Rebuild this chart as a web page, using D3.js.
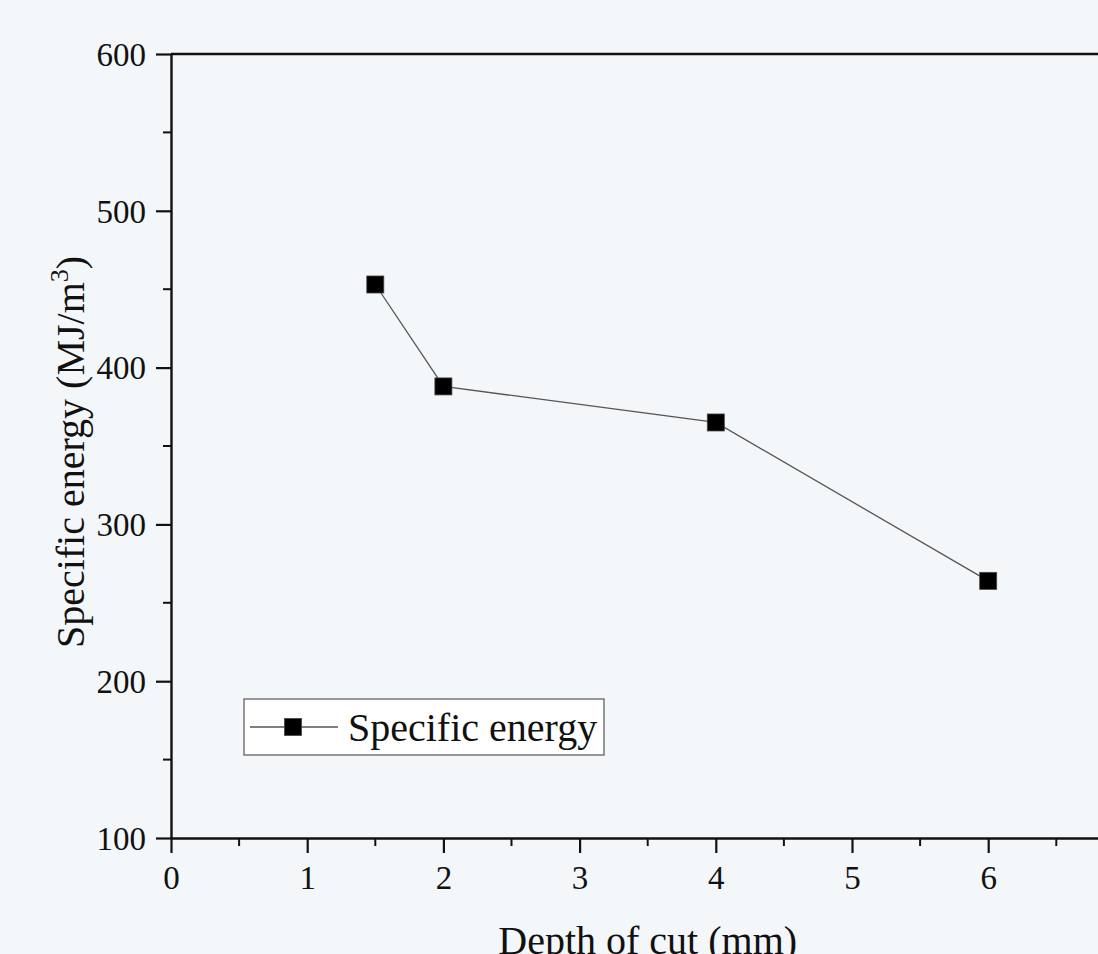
<!DOCTYPE html>
<html><head><meta charset="utf-8">
<script src="https://cdn.jsdelivr.net/npm/d3@7"></script>
<style>
html,body{margin:0;padding:0;background:#f4f7fa;}
svg{display:block;}
text{font-family:"Liberation Serif","Times New Roman",serif;fill:#111;}
</style></head>
<body>
<script>
const depth = [1.5, 2, 4, 6];
const energy = [453, 388, 365, 264];
const xTicks = [0, 1, 2, 3, 4, 5, 6];
const yTicks = [100, 200, 300, 400, 500, 600];
const seriesName = "Specific energy";

const W = 1098, H = 954;
const m = {left: 171, top: 54};
const pw = 953.4, ph = 784;

const svg = d3.select("body").append("svg").attr("width", W).attr("height", H);
svg.append("rect").attr("width", W).attr("height", H).attr("fill", "#f4f7fa");

const x = d3.scaleLinear().domain([0, 7]).range([m.left, m.left + pw]);
const y = d3.scaleLinear().domain([100, 600]).range([m.top + ph, m.top]);

// top frame
svg.append("line").attr("x1", m.left).attr("x2", m.left + pw)
  .attr("y1", m.top).attr("y2", m.top).attr("stroke", "#111").attr("stroke-width", 2.4);

// minor ticks
const gMinor = svg.append("g").attr("stroke", "#111").attr("stroke-width", 2);
d3.range(0.5, 7, 1).forEach(v => {
  gMinor.append("line").attr("x1", x(v)).attr("x2", x(v)).attr("y1", y(100)).attr("y2", y(100) + 8);
});
d3.range(150, 600, 100).forEach(v => {
  gMinor.append("line").attr("x1", m.left).attr("x2", m.left - 8).attr("y1", y(v)).attr("y2", y(v));
});

const xAxis = svg.append("g").attr("transform", `translate(0,${y(100)})`)
  .call(d3.axisBottom(x).tickValues(xTicks).tickFormat(d3.format("d")).tickSize(15).tickSizeOuter(0).tickPadding(13));
const yAxis = svg.append("g").attr("transform", `translate(${m.left},0)`)
  .call(d3.axisLeft(y).tickValues(yTicks).tickFormat(d3.format("d")).tickSize(15).tickSizeOuter(0).tickPadding(10));
[xAxis, yAxis].forEach(g => {
  g.select(".domain").attr("stroke", "#111").attr("stroke-width", 2.4);
  g.selectAll(".tick line").attr("stroke", "#111").attr("stroke-width", 2.2);
  g.selectAll(".tick text").attr("font-family", "Liberation Serif, serif").attr("font-size", 33).attr("fill", "#111");
});
yAxis.selectAll(".tick text").attr("dy", "0.34em");

// axis titles
svg.append("text").attr("x", x(3.5)).attr("y", 954).attr("text-anchor", "middle")
  .attr("font-size", 40).text("Depth of cut (mm)");
const yt = svg.append("text").attr("transform", `translate(84,452) rotate(-90)`)
  .attr("text-anchor", "middle").attr("font-size", 40);
yt.append("tspan").text("Specific energy (MJ/m");
yt.append("tspan").attr("font-size", 26).attr("dy", -16).text("3");
yt.append("tspan").attr("dy", 16).text(")");

// line
const pts = depth.map((d, i) => [d, energy[i]]);
svg.append("path").datum(pts)
  .attr("d", d3.line().x(d => x(d[0])).y(d => y(d[1])))
  .attr("fill", "none").attr("stroke", "#555").attr("stroke-width", 1.3);
const s = 17;
svg.selectAll("rect.pt").data(pts).enter().append("rect").attr("class", "pt")
  .attr("x", d => x(d[0]) - s/2).attr("y", d => y(d[1]) - s/2)
  .attr("width", s).attr("height", s).attr("fill", "#000").attr("stroke", "#444").attr("stroke-width", 0.8);

// legend
const lg = svg.append("g");
lg.append("rect").attr("x", 244).attr("y", 699).attr("width", 360).attr("height", 56)
  .attr("fill", "#fff").attr("stroke", "#555").attr("stroke-width", 1.2);
lg.append("line").attr("x1", 250).attr("x2", 338).attr("y1", 727).attr("y2", 727)
  .attr("stroke", "#555").attr("stroke-width", 1.3);
lg.append("rect").attr("x", 293 - s/2).attr("y", 727 - s/2).attr("width", s).attr("height", s)
  .attr("fill", "#000").attr("stroke", "#444").attr("stroke-width", 0.8);
lg.append("text").attr("x", 348).attr("y", 741).attr("font-size", 40).text(seriesName);
</script>
</body></html>
